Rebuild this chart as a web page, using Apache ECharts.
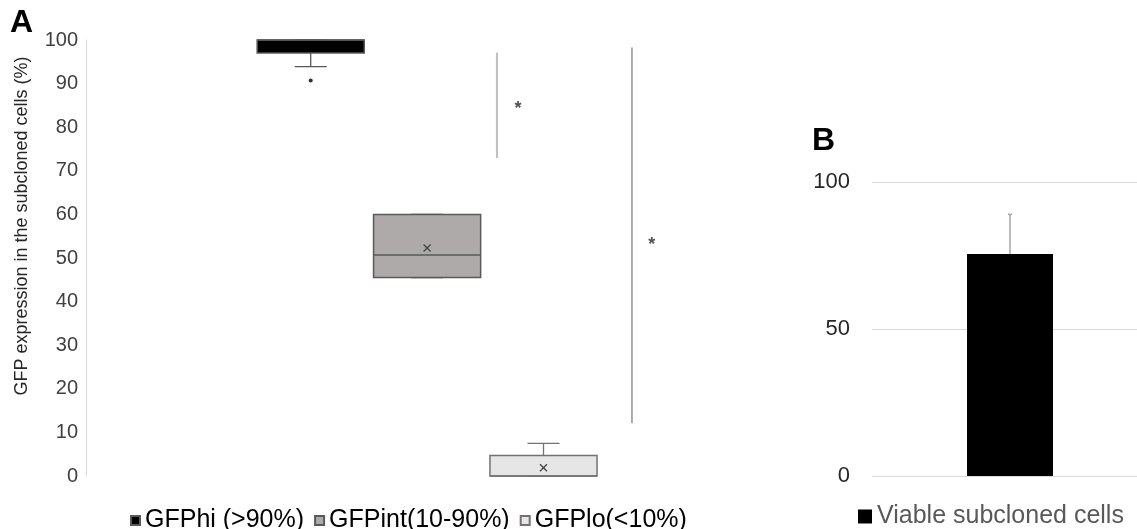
<!DOCTYPE html>
<html>
<head>
<meta charset="utf-8">
<script src="https://cdn.jsdelivr.net/npm/echarts@6/dist/echarts.min.js"></script>
<style>html,body{margin:0;padding:0;background:#fff}#c{width:1137px;height:529px}</style>
</head>
<body>
<div id="c"></div>
<script>
// ---------- Panel A data ----------
const groups = ['GFPhi (>90%)', 'GFPint(10-90%)', 'GFPlo(<10%)'];
const boxMin    = [93.9, 45.5, 0];
const boxQ1     = [97.0, 45.5, 0];
const boxMedian = [100, 50.7, 0];
const boxQ3     = [100, 60.0, 4.7];
const boxMax    = [100, 60.0, 7.5];
const boxMean   = [98.5, 52.3, 1.9];
const outlierGroup = [0];
const outlierValue = [90.7];
const yTicksA = [0, 100, 10];           // min, max, interval
// significance annotations (x in group units: group k is centred at k + 0.5)
const sigX    = [2.1, 3.26];
const sigFrom = [72.9, 12.1];
const sigTo   = [97.1, 98.3];
const starX   = [2.28, 3.43];
const starY   = [85.1, 53.9];

// ---------- Panel B data ----------
const viableCats = ['Viable subcloned cells'];
const viableMean = [75.5];
const viableErr  = [13.5];
const yTicksB = [0, 100, 50];

const FONT = 'Liberation Sans, Arial, sans-serif';
const fills   = ['#000000', '#aeaaaa', '#e7e6e6'];
const borders = ['#595959', '#595959', '#767171'];
const meanColors = ['#000000', '#404040', '#404040'];

function boxRender(k) {
  return function (params, api) {
    const i = api.value(0);
    const band = api.size([1, 0])[0];
    const bw = band * 0.92, cw = band * 0.275;
    const pMin = api.coord([i, api.value(1)]);
    const pQ1 = api.coord([i, api.value(2)]);
    const pMed = api.coord([i, api.value(3)]);
    const pQ3 = api.coord([i, api.value(4)]);
    const pMax = api.coord([i, api.value(5)]);
    const pMean = api.coord([i, api.value(6)]);
    const cx = pMed[0];
    const ls = {stroke: borders[k], lineWidth: 1.3};
    const m = 3.5;
    const ms = {stroke: meanColors[k], lineWidth: 1.2};
    return {
      type: 'group',
      children: [
        {type: 'line', shape: {x1: cx, y1: pQ1[1], x2: cx, y2: pMin[1]}, style: ls},
        {type: 'line', shape: {x1: cx, y1: pQ3[1], x2: cx, y2: pMax[1]}, style: ls},
        {type: 'line', shape: {x1: cx - cw / 2, y1: pMin[1], x2: cx + cw / 2, y2: pMin[1]}, style: ls},
        {type: 'line', shape: {x1: cx - cw / 2, y1: pMax[1], x2: cx + cw / 2, y2: pMax[1]}, style: ls},
        {type: 'rect', shape: {x: cx - bw / 2, y: pQ3[1], width: bw, height: pQ1[1] - pQ3[1]},
         style: {fill: fills[k], stroke: borders[k], lineWidth: 1.5}},
        {type: 'line', shape: {x1: cx - bw / 2, y1: pMed[1], x2: cx + bw / 2, y2: pMed[1]}, style: {stroke: borders[k], lineWidth: 1.5}},
        {type: 'line', shape: {x1: cx - m, y1: pMean[1] - m, x2: cx + m, y2: pMean[1] + m}, style: ms},
        {type: 'line', shape: {x1: cx - m, y1: pMean[1] + m, x2: cx + m, y2: pMean[1] - m}, style: ms}
      ]
    };
  };
}

const boxSeries = groups.map(function (g, k) {
  return {
    name: g, type: 'custom', xAxisIndex: 0, yAxisIndex: 0,
    renderItem: boxRender(k),
    itemStyle: {color: fills[k], borderColor: borders[k], borderWidth: 1},
    encode: {x: 0, y: [1, 2, 3, 4, 5]},
    data: [[k, boxMin[k], boxQ1[k], boxMedian[k], boxQ3[k], boxMax[k], boxMean[k]]],
    z: 3
  };
});

const sigSeries = sigX.map(function (x, j) {
  return {
    type: 'line', xAxisIndex: 1, yAxisIndex: 1, clip: false, symbol: 'none', silent: true,
    lineStyle: {color: j === 0 ? '#bfbfbf' : '#808080', width: j === 0 ? 2 : 1.3},
    data: [[x, sigFrom[j]], [x, sigTo[j]]]
  };
});

const option = {
  animation: false,
  backgroundColor: '#ffffff',
  textStyle: {fontFamily: FONT},
  title: [
    {text: 'A', left: 5, top: 2, textStyle: {fontSize: 32, fontWeight: 'bold', color: '#000', fontFamily: FONT}},
    {text: 'B', left: 807, top: 120, textStyle: {fontSize: 32, fontWeight: 'bold', color: '#000', fontFamily: FONT}}
  ],
  legend: [
    {data: groups, left: 125, top: 503, itemWidth: 9, itemHeight: 9, itemGap: 10, icon: 'rect',
     textStyle: {fontSize: 25, color: '#000', fontFamily: FONT}},
    {data: viableCats, left: 853, top: 499, itemWidth: 14, itemHeight: 14, icon: 'rect',
     textStyle: {fontSize: 25, color: '#595959', fontFamily: FONT}}
  ],
  grid: [
    {left: 252.5, width: 349.2, top: 40, bottom: 53, outerBoundsMode: 'none'},
    {left: 252.5, width: 465.6, top: 40, bottom: 53, outerBoundsMode: 'none'},
    {left: 872, width: 276, top: 182, bottom: 53, outerBoundsMode: 'none'}
  ],
  xAxis: [
    {type: 'category', gridIndex: 0, data: groups, show: false},
    {type: 'value', gridIndex: 1, min: 0, max: 4, show: false},
    {type: 'category', gridIndex: 2, data: viableCats, axisLine: {show: false}, axisTick: {show: false}, axisLabel: {show: false}}
  ],
  yAxis: [
    {type: 'value', gridIndex: 0, min: yTicksA[0], max: yTicksA[1], interval: yTicksA[2], offset: 166.5,
     axisLine: {show: true, onZero: false, lineStyle: {color: '#d9d9d9', width: 1}}, axisTick: {show: false}, splitLine: {show: false},
     axisLabel: {fontSize: 20, color: '#404040', margin: 8, fontFamily: FONT},
     name: 'GFP expression in the subcloned cells (%)', nameLocation: 'middle', nameGap: 55,
     nameTextStyle: {fontSize: 18, color: '#262626', fontFamily: FONT, padding: [0, 0, 0, 64]}},
    {type: 'value', gridIndex: 1, min: yTicksA[0], max: yTicksA[1], show: false},
    {type: 'value', gridIndex: 2, min: yTicksB[0], max: yTicksB[1], interval: yTicksB[2],
     axisLine: {show: false}, axisTick: {show: false},
     splitLine: {show: true, lineStyle: {color: '#d9d9d9', width: 1}},
     axisLabel: {fontSize: 22, color: '#262626', margin: 22, fontFamily: FONT}}
  ],
  series: boxSeries.concat(sigSeries).concat([
    {type: 'scatter', xAxisIndex: 0, yAxisIndex: 0, symbolSize: 4, silent: true,
     itemStyle: {color: '#000'},
     data: outlierGroup.map(function (g, j) { return [g, outlierValue[j]]; })},
    {type: 'scatter', xAxisIndex: 1, yAxisIndex: 1, clip: false, symbolSize: 1, silent: true,
     itemStyle: {color: 'rgba(0,0,0,0)'},
     label: {show: true, position: 'inside', formatter: '*', fontSize: 18, fontWeight: 'bold', color: '#262626', offset: [0, 4], fontFamily: FONT},
     data: starX.map(function (x, j) { return [x, starY[j]]; })},
    {name: viableCats[0], type: 'bar', xAxisIndex: 2, yAxisIndex: 2, barWidth: 86,
     itemStyle: {color: '#000'}, data: viableMean},
    {type: 'custom', xAxisIndex: 2, yAxisIndex: 2, silent: true, z: 5,
     renderItem: function (params, api) {
       const i = api.value(0);
       const p0 = api.coord([i, api.value(1)]);
       const p1 = api.coord([i, api.value(1) + api.value(2)]);
       const st = {stroke: '#a6a6a6', lineWidth: 1.5};
       return {type: 'group', children: [
         {type: 'line', shape: {x1: p0[0], y1: p0[1], x2: p1[0], y2: p1[1]}, style: st},
         {type: 'line', shape: {x1: p1[0] - 2, y1: p1[1], x2: p1[0] + 2, y2: p1[1]}, style: st}
       ]};
     },
     encode: {x: 0, y: [1]},
     data: viableMean.map(function (v, j) { return [j, v, viableErr[j]]; })}
  ])
};

const chart = echarts.init(document.getElementById('c'), null, {renderer: 'canvas'});
chart.setOption(option);
</script>
</body>
</html>
